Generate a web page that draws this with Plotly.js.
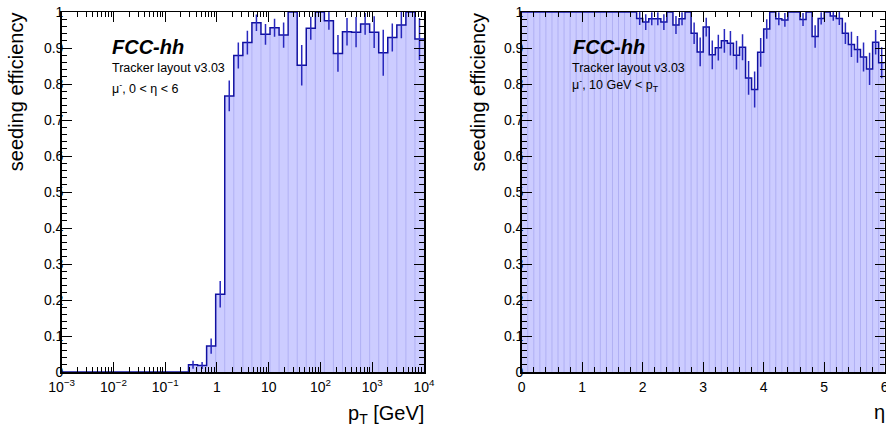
<!DOCTYPE html>
<html>
<head>
<meta charset="utf-8">
<script src="https://cdn.plot.ly/plotly-3.0.1.min.js"></script>
<style>html,body{margin:0;padding:0;background:#fff;}#plot{width:886px;height:428px;}</style>
</head>
<body>
<div id="plot"></div>
<script>
// ---------- data: left panel (efficiency vs pT, 40 log bins from 1e-3 to 1e4) ----------
const ptLogMin = -3, ptLogMax = 4, ptBins = 40;
const ptEff = [0,0,0,0,0,0,0,0,0,0, 0,0,0,0,0.020,0.018,0.072,0.216,0.767,0.879,
               0.915,0.970,0.938,0.956,0.936,1.000,0.852,0.955,1.000,0.976,
               0.885,0.945,0.944,0.967,0.944,0.887,0.929,0.964,1.000,0.925];
const ptErr = [0,0,0,0,0,0,0,0,0,0, 0,0,0,0,0.011,0.010,0.021,0.037,0.043,0.036,
               0.033,0.023,0.029,0.025,0.035,0,0.056,0.032,0,0.025,
               0.051,0.038,0.042,0.030,0.044,0.064,0.039,0.037,0,0.058];
const ptTickVals = [1e-3,1e-2,1e-1,1,10,100,1000,10000];
const ptTickText = ['10<sup>−3</sup>','10<sup>−2</sup>','10<sup>−1</sup>','1','10','10<sup>2</sup>','10<sup>3</sup>','10<sup>4</sup>'];

// ---------- data: right panel (efficiency vs eta, 60 bins from 0 to 6) ----------
const etaMin = 0, etaMax = 6, etaBins = 60;
const etaEff = [1,1,1,1,1,1,1,1,1,1, 1,1,1,1,1,1,1,1,1,0.982,
                0.972,0.981,0.981,0.972,1.000,0.964,0.981,1.000,0.941,0.889,
                0.958,0.881,0.901,0.920,0.913,0.880,0.902,0.817,0.785,0.888,
                0.953,1.000,0.981,0.978,1.000,1.000,0.979,1.000,0.932,0.982,
                1.000,0.989,0.982,0.941,0.910,0.896,0.875,0.842,0.916,0.859];
const etaErr = [0,0,0,0,0,0,0,0,0,0, 0,0,0,0,0,0,0,0,0,0.018,
                0.022,0.018,0.018,0.022,0,0.025,0.018,0,0.030,0.040,
                0.026,0.040,0.036,0.033,0.034,0.040,0.036,0.047,0.050,0.040,
                0.027,0,0.018,0.019,0,0,0.018,0,0.031,0.017,
                0,0.013,0.018,0.030,0.035,0.037,0.040,0.045,0.034,0.043];
const etaTickVals = [0,1,2,3,4,5,6];

const yTitle = 'seeding efficiency';
const ptTitle = 'p<sub>T</sub> [GeV]';
const etaTitle = 'η';
const labTitle = '<b><i>FCC-hh</i></b>';
const labLayout = 'Tracker layout v3.03';
const ptSel = 'μ<sup>-</sup>, 0 &lt; η &lt; 6';
const etaSel = 'μ<sup>-</sup>, 10 GeV &lt; p<sub>T</sub>';

// ---------- styles ----------
const FILL = 'rgb(204,204,255)';
const BINLINE = 'rgb(176,176,244)';
const STEP = 'rgb(16,16,160)';
const ERR = 'rgb(40,40,190)';
const FONT = 'Liberation Sans, Arial, Helvetica, sans-serif';

function histTraces(edges, centers, vals, errs, xa, ya) {
  const xs = edges.slice();
  const ys = vals.concat([vals[vals.length - 1]]);
  const lx = [], ly = [];
  for (let k = 1; k < vals.length; k++) {
    const h = Math.min(vals[k - 1], vals[k]);
    if (h > 0) { lx.push(edges[k], edges[k], null); ly.push(0, h, null); }
  }
  const ex = [], ey = [], ee = [];
  for (let k = 0; k < vals.length; k++) {
    if (errs[k] > 0) { ex.push(centers[k]); ey.push(vals[k]); ee.push(errs[k]); }
  }
  return [
    {x: xs, y: ys, xaxis: xa, yaxis: ya, type: 'scatter', mode: 'lines',
     line: {shape: 'hv', width: 0, color: FILL}, fill: 'tozeroy', fillcolor: FILL, hoverinfo: 'skip'},
    {x: lx, y: ly, xaxis: xa, yaxis: ya, type: 'scatter', mode: 'lines',
     line: {width: 1, color: BINLINE}, hoverinfo: 'skip'},
    {x: xs, y: ys, xaxis: xa, yaxis: ya, type: 'scatter', mode: 'lines',
     line: {shape: 'hv', width: 1.5, color: STEP}, hoverinfo: 'skip'},
    {x: ex, y: ey, xaxis: xa, yaxis: ya, type: 'scatter', mode: 'markers',
     marker: {size: 1, opacity: 0}, hoverinfo: 'skip',
     error_y: {type: 'data', array: ee, visible: true, color: ERR, thickness: 1.5, width: 0}}
  ];
}

// pT binning (log)
const ptEdges = [], ptCenters = [];
const ptStep = (ptLogMax - ptLogMin) / ptBins;
for (let k = 0; k <= ptBins; k++) ptEdges.push(Math.pow(10, ptLogMin + k * ptStep));
for (let k = 0; k < ptBins; k++) ptCenters.push(Math.pow(10, ptLogMin + (k + 0.5) * ptStep));
// eta binning
const etaEdges = [], etaCenters = [];
const etaStep = (etaMax - etaMin) / etaBins;
for (let k = 0; k <= etaBins; k++) etaEdges.push(etaMin + k * etaStep);
for (let k = 0; k < etaBins; k++) etaCenters.push(etaMin + (k + 0.5) * etaStep);

// minor tick values on log axis
const ptMinor = [];
for (let d = ptLogMin; d < ptLogMax; d++) for (let m = 2; m <= 9; m++) ptMinor.push(m * Math.pow(10, d));

const data = histTraces(ptEdges, ptCenters, ptEff, ptErr, 'x', 'y')
  .concat(histTraces(etaEdges, etaCenters, etaEff, etaErr, 'x2', 'y2'));

const W = 886, H = 428;
const px = v => v / W, py = v => 1 - v / H;

const axBase = {
  showline: true, linecolor: '#000', linewidth: 1.5, mirror: 'ticks',
  ticks: 'inside', ticklen: 10, tickwidth: 1, tickcolor: '#000',
  showgrid: false, zeroline: false, fixedrange: true, ticklabeloverflow: 'allow',
  tickfont: {family: FONT, size: 14, color: '#000'}
};
const yAx = Object.assign({}, axBase, {
  range: [0, 1], tick0: 0, dtick: 0.1, domain: [py(372), py(12)], ticklabelstandoff: -6,
  minor: {ticks: 'inside', ticklen: 5, tickwidth: 1, tickcolor: '#000', dtick: 0.02, showgrid: false}
});

const layout = {
  width: W, height: H, autosize: false,
  margin: {l: 0, r: 0, t: 0, b: 0, pad: 0},
  paper_bgcolor: '#fff', plot_bgcolor: '#fff',
  showlegend: false,
  xaxis: Object.assign({}, axBase, {
    type: 'log', range: [ptLogMin, ptLogMax], domain: [px(61.7), px(424)], ticklabelstandoff: 2,
    tickmode: 'array', tickvals: ptTickVals, ticktext: ptTickText, anchor: 'y',
    minor: {ticks: 'inside', ticklen: 5, tickwidth: 1, tickcolor: '#000', tickmode: 'array', tickvals: ptMinor, showgrid: false}
  }),
  yaxis: Object.assign({}, yAx, {anchor: 'x'}),
  xaxis2: Object.assign({}, axBase, {
    range: [etaMin, etaMax], domain: [px(521.7), px(884.7)], ticklabelstandoff: 2,
    tickmode: 'array', tickvals: etaTickVals, anchor: 'y2',
    minor: {ticks: 'inside', ticklen: 5, tickwidth: 1, tickcolor: '#000', tick0: 0, dtick: 0.2, showgrid: false}
  }),
  yaxis2: Object.assign({}, yAx, {anchor: 'x2'}),
  annotations: [
    {text: yTitle, x: px(16.7), y: py(91.5), xref: 'paper', yref: 'paper', textangle: -90,
     xanchor: 'center', yanchor: 'middle', showarrow: false, font: {family: FONT, size: 20, color: '#000'}},
    {text: yTitle, x: px(478), y: py(91.5), xref: 'paper', yref: 'paper', textangle: -90,
     xanchor: 'center', yanchor: 'middle', showarrow: false, font: {family: FONT, size: 20, color: '#000'}},
    {text: ptTitle, x: px(426), y: py(414), xref: 'paper', yref: 'paper',
     xanchor: 'right', yanchor: 'middle', showarrow: false, font: {family: FONT, size: 20, color: '#000'}},
    {text: etaTitle, x: px(887), y: py(412), xref: 'paper', yref: 'paper',
     xanchor: 'right', yanchor: 'middle', showarrow: false, font: {family: FONT, size: 20, color: '#000'}},
    {text: labTitle, x: px(110), y: py(47), xref: 'paper', yref: 'paper',
     xanchor: 'left', yanchor: 'middle', showarrow: false, font: {family: FONT, size: 20, color: '#000'}},
    {text: labLayout, x: px(109.5), y: py(68), xref: 'paper', yref: 'paper',
     xanchor: 'left', yanchor: 'middle', showarrow: false, font: {family: FONT, size: 12.5, color: '#000'}},
    {text: ptSel, x: px(109.5), y: py(88), xref: 'paper', yref: 'paper',
     xanchor: 'left', yanchor: 'middle', showarrow: false, font: {family: FONT, size: 12.5, color: '#000'}},
    {text: labTitle, x: px(571), y: py(47), xref: 'paper', yref: 'paper',
     xanchor: 'left', yanchor: 'middle', showarrow: false, font: {family: FONT, size: 20, color: '#000'}},
    {text: labLayout, x: px(570), y: py(68), xref: 'paper', yref: 'paper',
     xanchor: 'left', yanchor: 'middle', showarrow: false, font: {family: FONT, size: 12.5, color: '#000'}},
    {text: etaSel, x: px(570), y: py(85), xref: 'paper', yref: 'paper',
     xanchor: 'left', yanchor: 'middle', showarrow: false, font: {family: FONT, size: 12.5, color: '#000'}}
  ]
};

Plotly.newPlot('plot', data, layout, {staticPlot: true, displayModeBar: false});
</script>
</body>
</html>
